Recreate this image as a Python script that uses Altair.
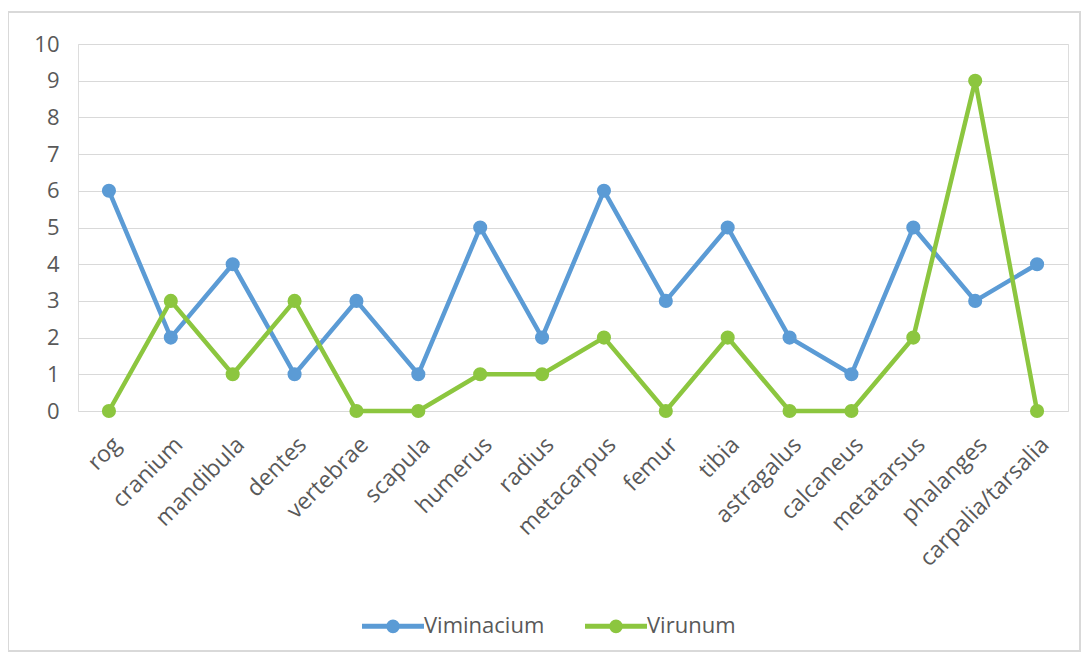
import altair as alt
import pandas as pd

categories = ["rog", "cranium", "mandibula", "dentes", "vertebrae", "scapula", "humerus",
              "radius", "metacarpus", "femur", "tibia", "astragalus", "calcaneus",
              "metatarsus", "phalanges", "carpalia/tarsalia"]
viminacium = [6, 2, 4, 1, 3, 1, 5, 2, 6, 3, 5, 2, 1, 5, 3, 4]
virunum = [0, 3, 1, 3, 0, 0, 1, 1, 2, 0, 2, 0, 0, 2, 9, 0]
series_names = ["Viminacium", "Virunum"]
series_colors = ["#5B9BD5", "#8CC63F"]
y_ticks = list(range(0, 11))

rows = []
for name, vals in zip(series_names, [viminacium, virunum]):
    for c, v in zip(categories, vals):
        rows.append({"cat": c, "value": v, "series": name})
df = pd.DataFrame(rows)

FONT = "Open Sans"
W, H = 990, 367

x = alt.X("cat:N", sort=categories, title=None,
          scale=alt.Scale(paddingInner=0, paddingOuter=0.5),
          axis=alt.Axis(labelAngle=-45, labelFontSize=23, labelColor="#595959",
                        labelFont=FONT, domain=False, ticks=False, labelPadding=22,
                        grid=False))
y = alt.Y("value:Q", title=None, scale=alt.Scale(domain=[0, 10], nice=False),
          axis=alt.Axis(values=y_ticks, labelFontSize=22, labelColor="#595959",
                        labelFont=FONT, domain=False, ticks=False, labelPadding=19,
                        gridColor="#D9D9D9", gridWidth=1.2))
color = alt.Color("series:N", sort=series_names,
                  scale=alt.Scale(domain=series_names, range=series_colors),
                  legend=alt.Legend(title=None, orient="none", direction="horizontal",
                                    legendX=293, legendY=560,
                                    labelFontSize=22, labelColor="#595959", labelFont=FONT,
                                    symbolType="M-1.6,0 L1.6,0 M-0.22,0 A0.22,0.22 0 1,1 0.22,0 A0.22,0.22 0 1,1 -0.22,0 Z",
                                    symbolSize=1500, symbolStrokeWidth=5, symbolFillColor="transparent",
                                    columnPadding=30, labelOffset=9))

border = alt.Chart(pd.DataFrame({"a": [0]})).mark_rect(
    fillOpacity=0, stroke="#D9D9D9", strokeWidth=2
).encode(x=alt.value(-70), x2=alt.value(1002), y=alt.value(-32), y2=alt.value(607))

base = alt.Chart(df)
lines = base.mark_line(strokeWidth=4.5).encode(x=x, y=y, color=color, detail="series:N")
points = base.mark_circle(size=200, opacity=1).encode(
    x=x, y=y,
    color=alt.Color("series:N", scale=alt.Scale(domain=series_names, range=series_colors), legend=None))

chart = alt.layer(border, lines, points).properties(
    width=W, height=H,
    autosize=alt.AutoSizeParams(type="none"),
    padding={"left": 70, "top": 36, "right": 13, "bottom": 243},
).configure_view(stroke=None).configure(background="white")

chart.save("out.html", embed_options={"renderer": "svg", "actions": False})
